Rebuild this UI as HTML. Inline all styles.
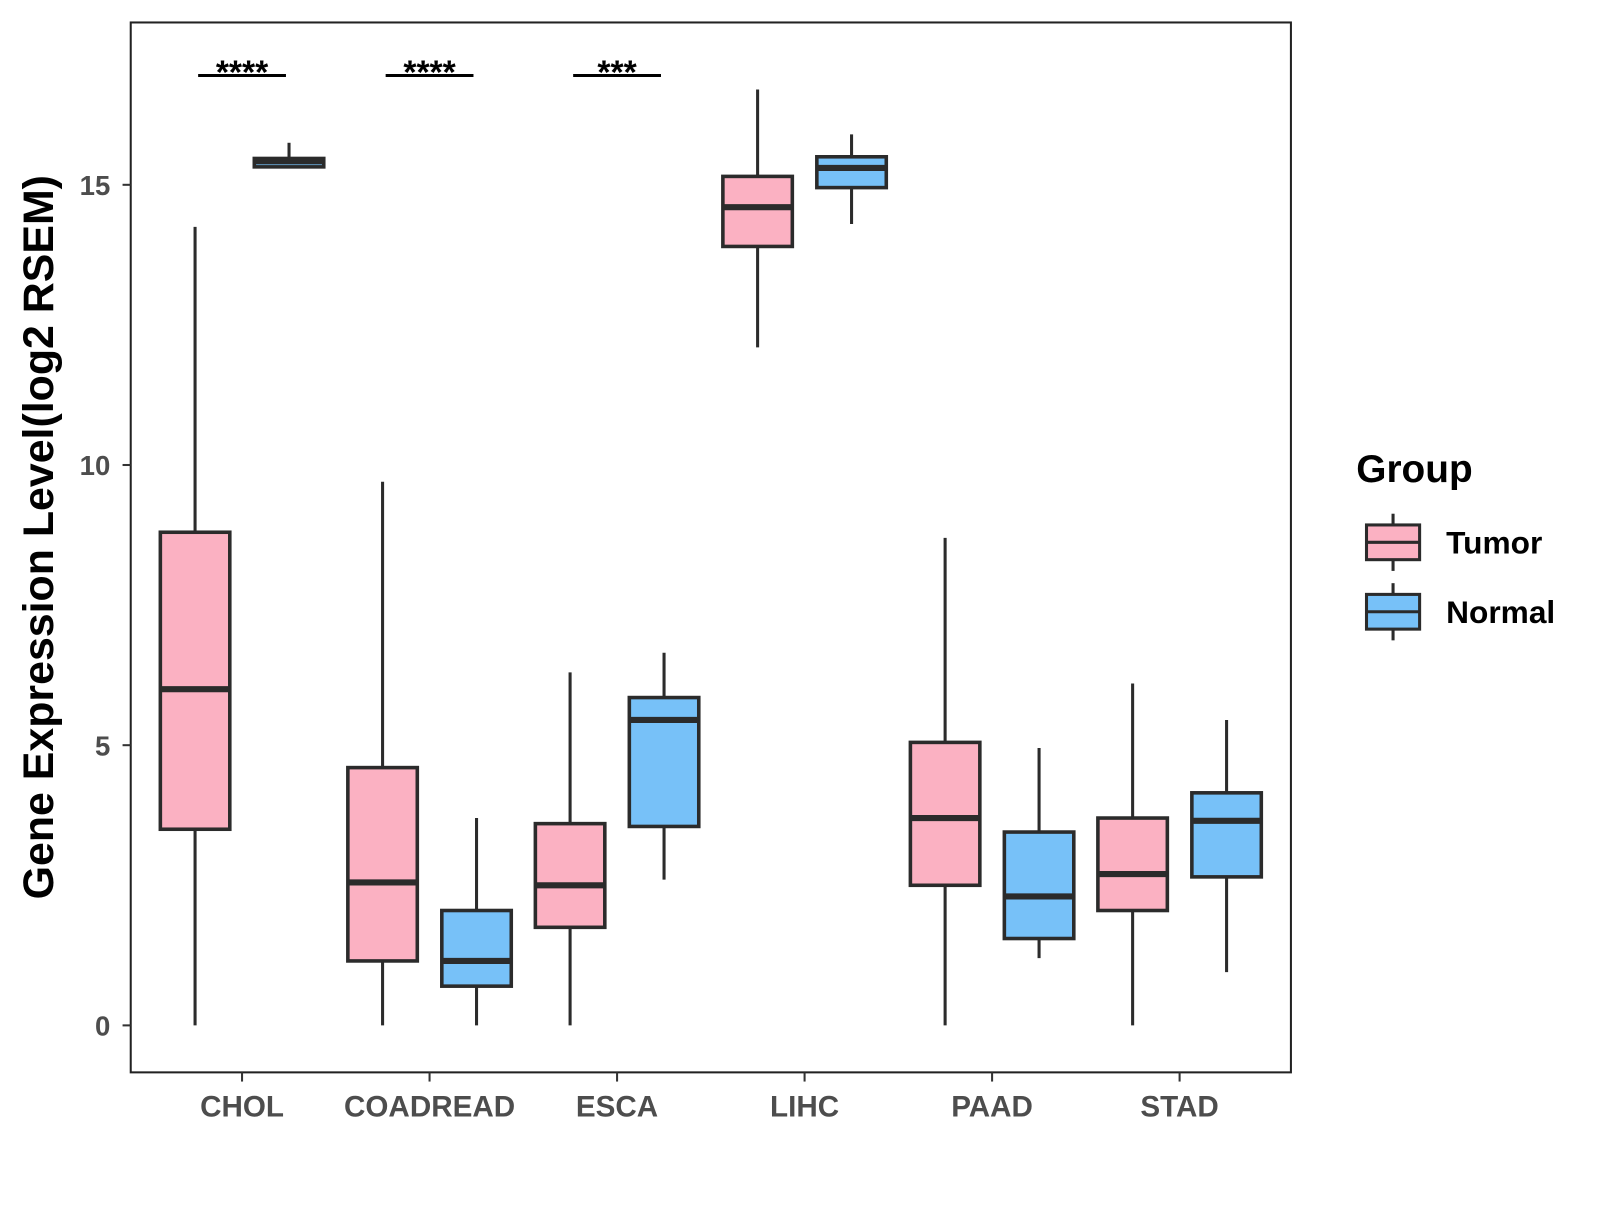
<!DOCTYPE html>
<html><head><meta charset="utf-8"><style>
body{margin:0;background:#fff;}
svg text{font-family:"Liberation Sans",Arial,sans-serif;font-weight:bold;}
</style></head><body>
<svg id="chart" width="1600" height="1200" viewBox="0 0 1600 1200" xmlns="http://www.w3.org/2000/svg">
<rect x="0" y="0" width="1600" height="1200" fill="#fff"/>
<g id="plot" transform="scale(1.0213)"></g>
</svg>
<script>
const categories=["CHOL","COADREAD","ESCA","LIHC","PAAD","STAD"];
// [whiskerLow, q1, median, q3, whiskerHigh]
const tumorStats=[[0,3.5,6.0,8.8,14.25],[0,1.15,2.55,4.6,9.7],[0,1.75,2.5,3.6,6.3],[12.1,13.9,14.6,15.15,16.7],[0,2.5,3.7,5.05,8.7],[0,2.05,2.7,3.7,6.1]];
const normalStats=[[15.32,15.32,15.42,15.47,15.75],[0,0.7,1.15,2.05,3.7],[2.6,3.55,5.45,5.85,6.65],[14.3,14.95,15.3,15.5,15.9],[1.2,1.55,2.3,3.45,4.95],[0.95,2.65,3.65,4.15,5.45]];
const yTicks=[0,5,10,15];
const sigLabels=["****","****","***","","",""];
const sigY=16.95;

const NS="http://www.w3.org/2000/svg";
const g=document.getElementById('plot');
const P={l:128,r:1264,t:22,b:1050};
const y=v=>1004-v*54.87;
const x=i=>237+i*183.6;
function mk(t,a,txt){const e=document.createElementNS(NS,t);for(const k in a)e.setAttribute(k,a[k]);if(txt!==undefined)e.textContent=txt;g.appendChild(e);return e;}
const col="#2b2b2b";
const frame=mk('rect',{x:P.l,y:P.t,width:P.r-P.l,height:P.b-P.t,fill:'none',stroke:'#222','stroke-width':2});


yTicks.forEach(t=>{
 const l=mk('line',{x1:P.l-8,x2:P.l,y1:y(t),y2:y(t),stroke:'#333','stroke-width':2});
 
 
 const tx=mk('text',{x:P.l-20,y:y(t)+10,'text-anchor':'end','font-size':27,fill:'#4d4d4d'},String(t));
 
 
});
function box(cx,s,fill,name){
 const w=68;
 const wl=mk('line',{x1:cx,x2:cx,y1:y(s[0]),y2:y(s[4]),stroke:col,'stroke-width':3});
 
 
 const r=mk('rect',{x:cx-w/2,y:y(s[3]),width:w,height:y(s[1])-y(s[3]),fill:fill,stroke:col,'stroke-width':3.5});
 
 
 const m=mk('line',{x1:cx-w/2,x2:cx+w/2,y1:y(s[2]),y2:y(s[2]),stroke:col,'stroke-width':6});
 
 
}
categories.forEach((c,i)=>{
 box(x(i)-46,tumorStats[i],'#fbb1c2','tumor-'+c.toLowerCase());
 box(x(i)+46,normalStats[i],'#77c1f8','normal-'+c.toLowerCase());
 const t=mk('line',{x1:x(i),x2:x(i),y1:P.b,y2:P.b+9,stroke:'#333','stroke-width':2});
 
 
 const lb=mk('text',{x:x(i),y:1093,'text-anchor':'middle','font-size':29,fill:'#4d4d4d'},c);
 
 
 if(sigLabels[i]){
  const sl=mk('line',{x1:x(i)-43,x2:x(i)+43,y1:y(sigY),y2:y(sigY),stroke:'#000','stroke-width':3});
  
  
  const st=mk('text',{x:x(i),y:y(sigY)+8,'text-anchor':'middle','font-size':33,fill:'#000'},sigLabels[i]);
  
  
 }
});
const yt=mk('text',{x:0,y:0,transform:'translate(52,526) rotate(-90)','text-anchor':'middle','font-size':42,fill:'#000'},'Gene Expression Level(log2 RSEM)');


const lt=mk('text',{x:1328,y:472,'font-size':38,fill:'#000'},'Group');


[['Tumor','#fbb1c2',531],['Normal','#77c1f8',599]].forEach(([n,f,cy])=>{
 const w1=mk('line',{x1:1364,x2:1364,y1:cy-28,y2:cy+28,stroke:col,'stroke-width':3});
 
 
 const r=mk('rect',{x:1338,y:cy-17,width:52,height:34,fill:f,stroke:col,'stroke-width':3});
 
 
 const m=mk('line',{x1:1338,x2:1390,y1:cy,y2:cy,stroke:col,'stroke-width':3});
 
 
 const t=mk('text',{x:1416,y:cy+11,'font-size':31,fill:'#000'},n);
 
 
});
</script>
</body></html>
